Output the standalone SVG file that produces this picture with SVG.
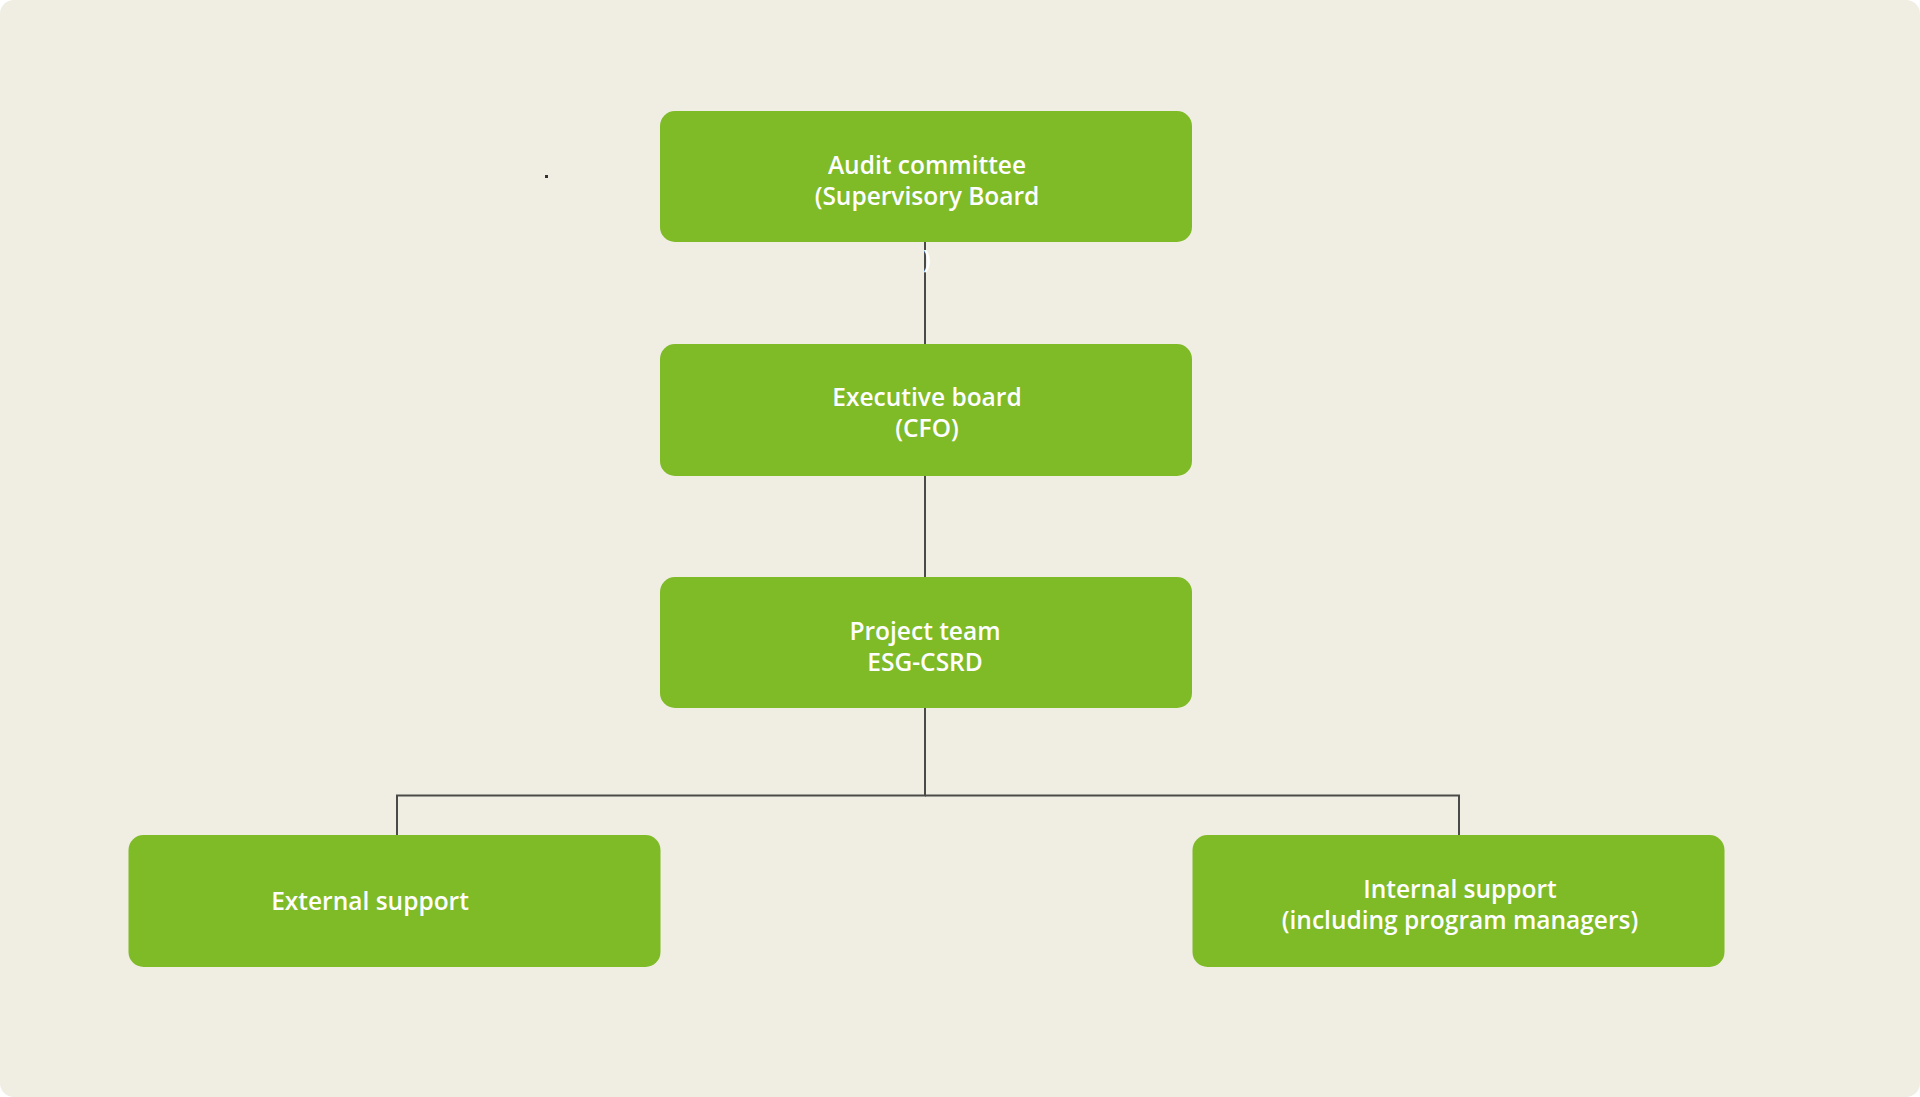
<svg xmlns="http://www.w3.org/2000/svg" width="1920" height="1097" viewBox="0 0 1920 1097">
<style>
.node{fill:#7FBA27;}
.lbl{font-family:"Open Sans","Liberation Sans",sans-serif;font-weight:600;font-size:24.5px;fill:#FFFFFF;text-anchor:middle;}
.conn{fill:none;stroke:#4A4A48;stroke-width:2;}
</style>
<rect x="0" y="0" width="1920" height="1097" fill="#FFFFFF"/>
<rect x="0" y="0" width="1920" height="1097" rx="14" fill="#F0EEE3"/>
<rect x="545" y="175" width="3" height="3" fill="#333333"/>
<g id="connectors">
<path class="conn" d="M925 242 V344"/>
<path class="conn" d="M925 476 V577"/>
<path class="conn" d="M925 708 V795.5 H397 V835"/>
<path class="conn" d="M925 795.5 H1459 V835"/>
</g>
<text x="923" y="268" font-family="'Open Sans','Liberation Sans',sans-serif" font-weight="600" font-size="24.5" fill="#FFFFFF">)</text>
<g id="audit-committee">
<rect class="node" x="660" y="111" width="532" height="131" rx="15"/>
<text class="lbl" x="927" y="174">Audit committee</text>
<text class="lbl" x="927" y="205">(Supervisory Board</text>
</g>
<g id="executive-board">
<rect class="node" x="660" y="344" width="532" height="132" rx="15"/>
<text class="lbl" x="927" y="406">Executive board</text>
<text class="lbl" x="927" y="437">(CFO)</text>
</g>
<g id="project-team">
<rect class="node" x="660" y="577" width="532" height="131" rx="15"/>
<text class="lbl" x="925" y="640">Project team</text>
<text class="lbl" x="925" y="671">ESG-CSRD</text>
</g>
<g id="external-support">
<rect class="node" x="128.5" y="835" width="532" height="132" rx="15"/>
<text class="lbl" x="370" y="910">External support</text>
</g>
<g id="internal-support">
<rect class="node" x="1192.5" y="835" width="532" height="132" rx="15"/>
<text class="lbl" x="1460" y="898">Internal support</text>
<text class="lbl" x="1460" y="929">(including program managers)</text>
</g>
</svg>
